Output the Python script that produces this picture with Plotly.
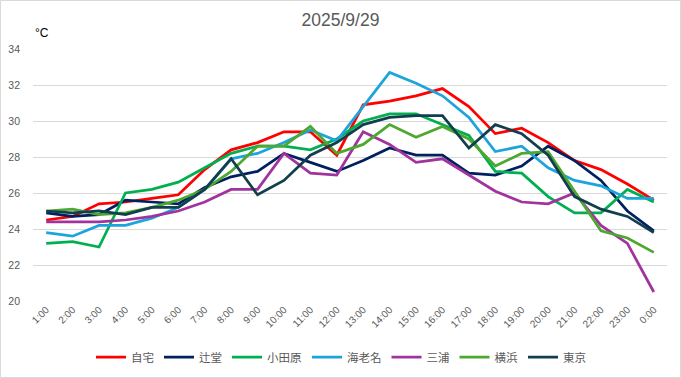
import plotly.graph_objects as go

hours = ["1:00", "2:00", "3:00", "4:00", "5:00", "6:00", "7:00", "8:00", "9:00", "10:00",
         "11:00", "12:00", "13:00", "14:00", "15:00", "16:00", "17:00", "18:00", "19:00",
         "20:00", "21:00", "22:00", "23:00", "0:00"]

jitaku = [24.5, 24.7, 25.4, 25.5, 25.7, 25.9, 27.3, 28.4, 28.8, 29.4, 29.4, 28.1, 30.9, 31.1, 31.4, 31.8, 30.8, 29.3, 29.6, 28.8, 27.8, 27.3, 26.5, 25.6]
tsujido = [24.9, 24.7, 24.8, 25.6, 25.5, 25.4, 26.3, 26.9, 27.2, 28.2, 27.7, 27.2, 27.8, 28.5, 28.1, 28.1, 27.1, 27.0, 27.5, 28.6, 27.8, 26.7, 25.0, 23.9]
odawara = [23.2, 23.3, 23.0, 26.0, 26.2, 26.6, 27.4, 28.2, 28.6, 28.6, 28.4, 29.0, 30.0, 30.4, 30.4, 29.8, 29.2, 27.2, 27.1, 25.8, 24.9, 24.9, 26.2, 25.5]
ebina = [23.8, 23.6, 24.2, 24.2, 24.6, 25.2, 26.2, 27.9, 28.2, 28.8, 29.5, 28.9, 30.8, 32.7, 32.1, 31.4, 30.2, 28.3, 28.6, 27.4, 26.7, 26.4, 25.7, 25.7]
miura = [24.4, 24.4, 24.4, 24.5, 24.7, 25.0, 25.5, 26.2, 26.2, 28.2, 27.1, 27.0, 29.4, 28.7, 27.7, 27.9, 27.0, 26.1, 25.5, 25.4, 26.0, 24.2, 23.2, 20.5]
yokohama = [25.0, 25.1, 24.8, 24.9, 25.2, 25.6, 26.2, 27.2, 28.6, 28.6, 29.7, 28.2, 28.7, 29.8, 29.1, 29.7, 29.0, 27.5, 28.2, 28.3, 26.1, 23.9, 23.5, 22.7]
tokyo = [25.0, 24.9, 25.0, 24.8, 25.2, 25.2, 26.2, 27.9, 25.9, 26.7, 28.1, 28.8, 29.8, 30.2, 30.3, 30.3, 28.5, 29.8, 29.3, 28.1, 25.8, 25.1, 24.7, 23.8]

series_names = ["自宅", "辻堂", "小田原", "海老名", "三浦", "横浜", "東京"]
series_values = [jitaku, tsujido, odawara, ebina, miura, yokohama, tokyo]
series_colors = ["#FF0000", "#002060", "#00B050", "#1CA4DC", "#A0339E", "#4EA72E", "#123E4E"]

FONT = "Liberation Sans, Arial, Noto Sans CJK JP, sans-serif"

fig = go.Figure()
for name, vals, col in zip(series_names, series_values, series_colors):
    fig.add_trace(go.Scatter(x=hours, y=vals, name=name, mode="lines",
                             line=dict(color=col, width=2.75)))

fig.update_layout(
    width=681, height=378,
    margin=dict(l=33, r=14, t=49, b=77, autoexpand=False),
    paper_bgcolor="white", plot_bgcolor="white",
    font=dict(family=FONT, color="#595959", size=11),
    title=dict(text="2025/9/29", x=0.5, xref="container", y=1 - 20 / 378, yref="container",
               xanchor="center", yanchor="middle",
               font=dict(size=17.5, color="#595959", family=FONT)),
    showlegend=True,
    legend=dict(orientation="h", x=(341 - 33) / 634, xanchor="center", xref="paper",
                y=(301 - 357) / 252, yanchor="middle",
                font=dict(size=11.5, color="#595959", family=FONT),
                itemwidth=30, tracegroupgap=0, bgcolor="rgba(0,0,0,0)"),
    xaxis=dict(type="category", range=[-0.5, 23.5], showgrid=False, zeroline=False,
               showline=False, tickangle=-45, ticks="", tickmode="linear", tick0=0, dtick=1,
               automargin=False, tickfont=dict(size=10, color="#595959")),
    yaxis=dict(range=[20, 34], dtick=2, showgrid=True, gridcolor="#D9D9D9", gridwidth=1,
               zeroline=False, showline=False, ticks="", ticklabelstandoff=12, automargin=False,
               tickfont=dict(size=10.5, color="#595959")),
    annotations=[dict(text="°C", x=0.0, y=(301 - 33) / 252, xref="paper", yref="paper",
                      xanchor="left", yanchor="middle", showarrow=False,
                      font=dict(size=12, color="#000000", family=FONT))],
    shapes=[dict(type="rect", xref="paper", yref="paper",
                 x0=-32.5 / 634, x1=(680.5 - 33) / 634,
                 y0=(301 - 377.5) / 252, y1=(301 - 0.5) / 252,
                 line=dict(color="#D9D9D9", width=1), fillcolor="rgba(0,0,0,0)", layer="below")],
)

fig.write_html("out.html", config={"displayModeBar": False},
               post_script="document.body.style.margin='0';document.body.style.overflow='hidden';")
